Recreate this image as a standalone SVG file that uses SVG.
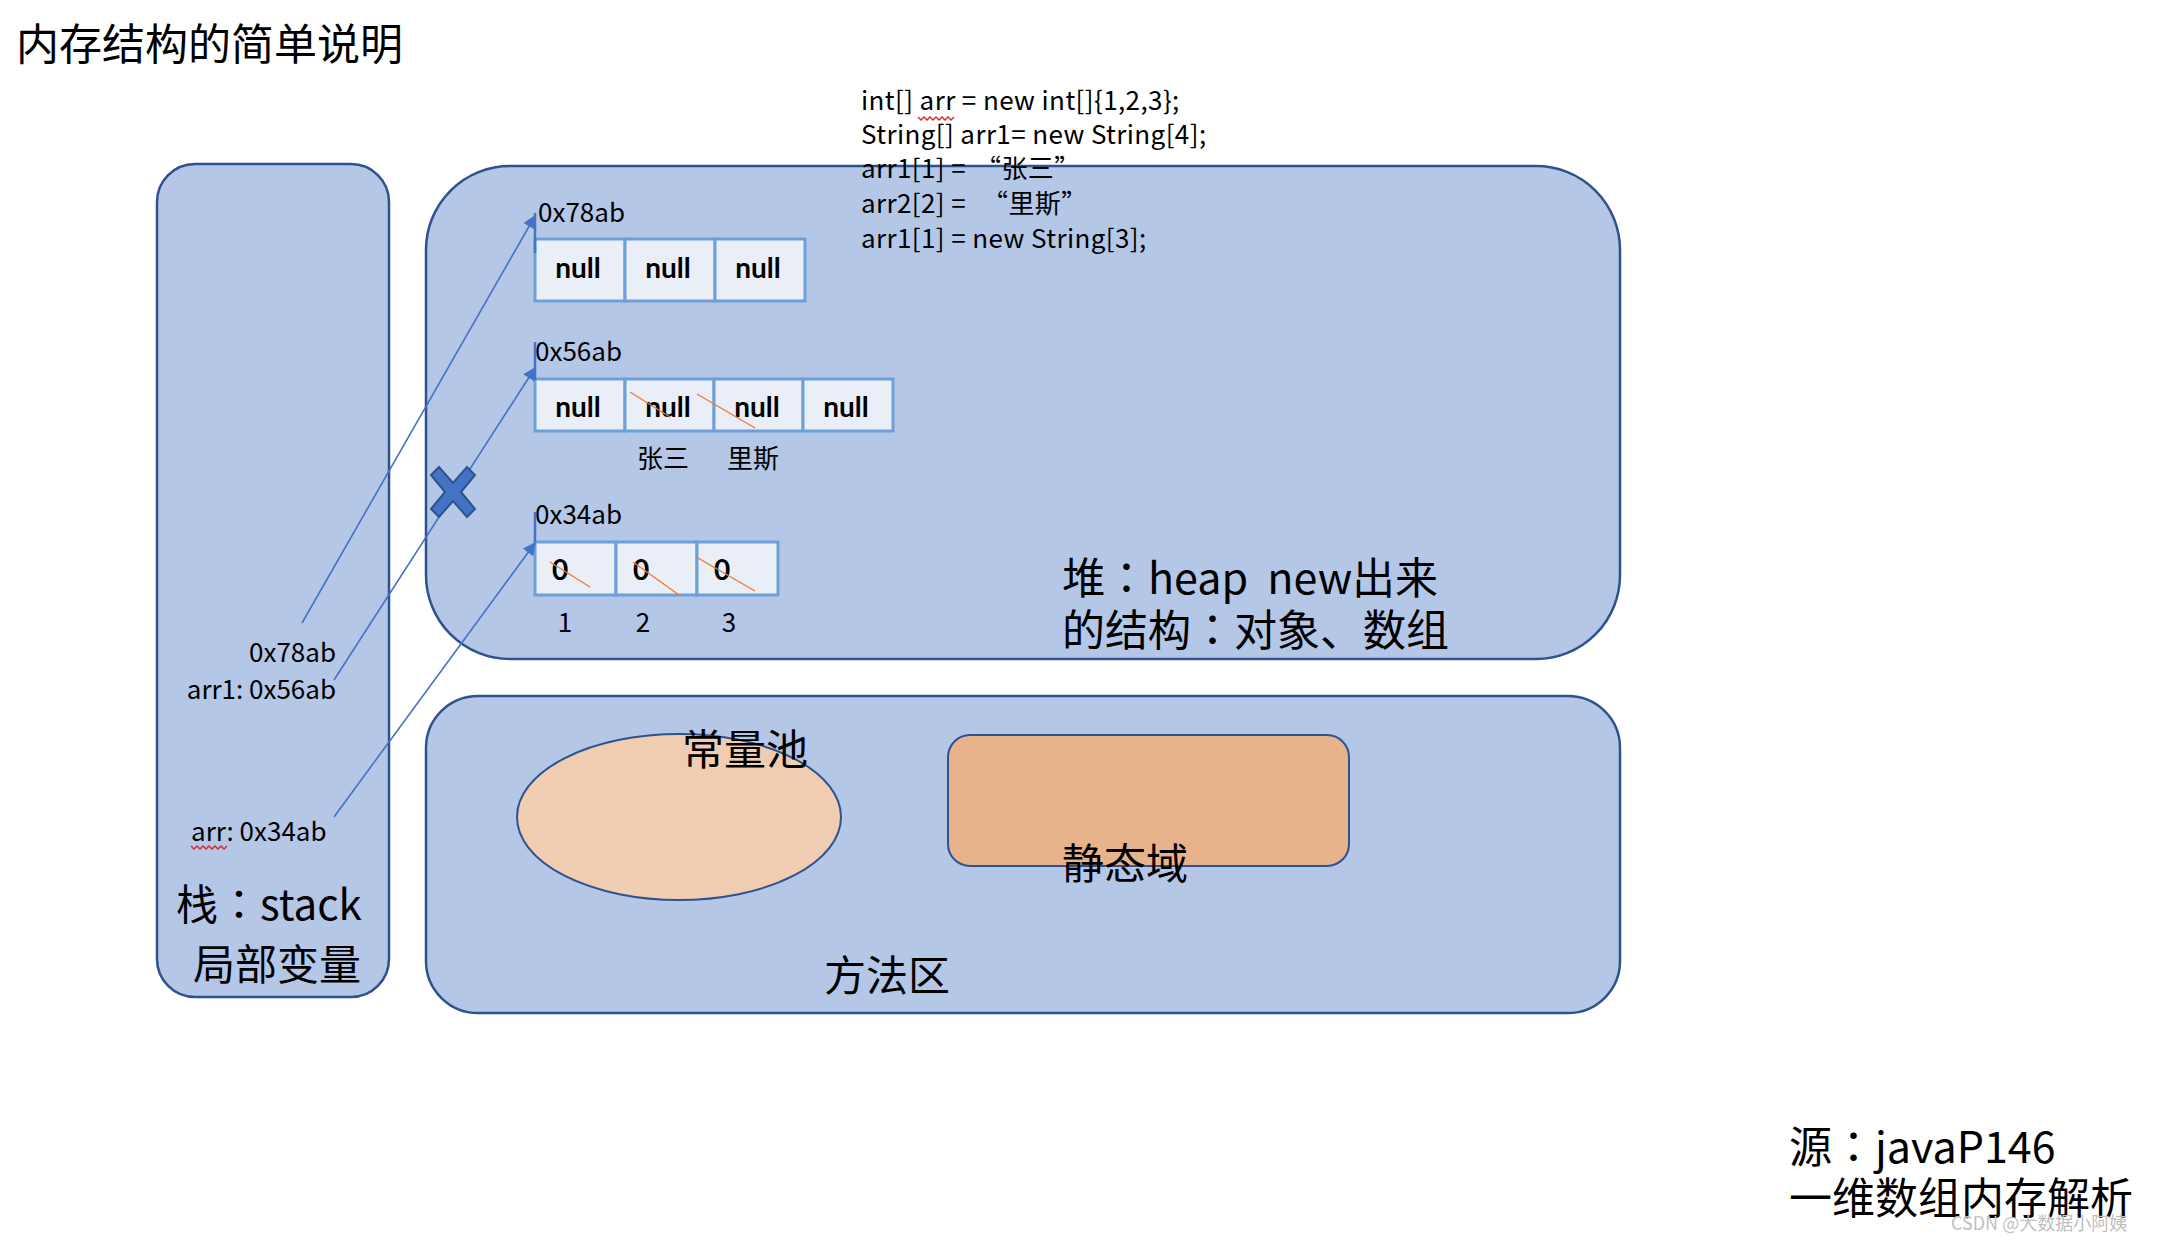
<svg xmlns="http://www.w3.org/2000/svg" width="2158" height="1244" viewBox="0 0 2158 1244">
<defs>
<style>
.t{font-family:"Noto Sans CJK SC","Noto Sans",sans-serif;fill:#000}
.tc{font-family:"Noto Sans CJK JP","Noto Sans CJK SC",sans-serif;fill:#000}
.big{font-size:42px}
.mid{font-size:26px}
.code{font-size:26px;letter-spacing:0.4px}
.bold{font-family:Lato,"Noto Sans",sans-serif;font-weight:700;font-size:28px;fill:#000}
.area{fill:#B4C7E7;stroke:#2F528F;stroke-width:2.5}
.cell{fill:#E9EEF7;stroke:#6E9FD8;stroke-width:3}
.strike{stroke:#ED7D31;stroke-width:1.4;fill:none}
.conn{stroke:#4472C4;stroke-width:1.6;fill:none}
.stub{stroke:#4472C4;stroke-width:2.5;fill:none}
.squig{stroke:#E02020;stroke-width:1.3;fill:none}
</style>
<marker id="ah2" viewBox="0 0 10 10" refX="9" refY="5" markerWidth="16" markerHeight="13" markerUnits="userSpaceOnUse" orient="auto">
<path d="M0,0 L10,5 L0,10 z" fill="#4472C4"/>
</marker>
</defs>
<rect width="2158" height="1244" fill="#fff"/>

<text class="t" x="16" y="60" font-size="43">内存结构的简单说明</text>

<g id="stack">
<rect class="area" x="157" y="164" width="232" height="833" rx="38"/>
<text class="t mid" x="336" y="662" text-anchor="end">0x78ab</text>
<text class="t mid" x="336" y="699" text-anchor="end">arr1: 0x56ab</text>
<text class="t mid" x="191" y="841">arr: 0x34ab</text>
<path class="squig" d="M191,846 l3,3 l3,-3 l3,3 l3,-3 l3,3 l3,-3 l3,3 l3,-3 l3,3 l3,-3 l3,3 l3,-3"/>
<text class="tc big" x="176" y="920">栈：stack</text>
<text class="t big" x="193" y="980">局部变量</text>
</g>

<g id="heap">
<rect class="area" x="426" y="166" width="1194" height="493" rx="84"/>
<text class="tc" font-size="43" x="1062" y="594" style="white-space:pre">堆：heap  new出来</text>
<text class="tc" font-size="43" x="1062" y="646">的结构：对象、数组</text>
</g>

<g id="code">
<text class="t code" x="861" y="110">int[] arr = new int[]{1,2,3};</text>
<path class="squig" d="M918,117 l3,3 l3,-3 l3,3 l3,-3 l3,3 l3,-3 l3,3 l3,-3 l3,3 l3,-3 l3,3 l3,-3"/>
<text class="t code" x="861" y="144">String[] arr1= new String[4];</text>
<text class="t code" x="861" y="178">arr1[1] =<tspan x="975">“张三”</tspan></text>
<text class="t code" x="861" y="213">arr2[2] =<tspan x="982">“里斯”</tspan></text>
<text class="t code" x="861" y="248">arr1[1] = new String[3];</text>
</g>

<g id="array-0x78ab">
<text class="t mid" x="538" y="222">0x78ab</text>
<rect class="cell" x="535" y="239" width="90" height="62"/>
<rect class="cell" x="625" y="239" width="90" height="62"/>
<rect class="cell" x="715" y="239" width="90" height="62"/>
<text class="bold" x="578" y="278" text-anchor="middle">null</text>
<text class="bold" x="668" y="278" text-anchor="middle">null</text>
<text class="bold" x="758" y="278" text-anchor="middle">null</text>
</g>

<g id="array-0x56ab">
<text class="t mid" x="535" y="361">0x56ab</text>
<rect class="cell" x="535" y="379" width="90" height="52"/>
<rect class="cell" x="625" y="379" width="89" height="52"/>
<rect class="cell" x="714" y="379" width="89" height="52"/>
<rect class="cell" x="803" y="379" width="90" height="52"/>
<text class="bold" x="578" y="417" text-anchor="middle">null</text>
<text class="bold" x="668" y="417" text-anchor="middle">null</text>
<text class="bold" x="757" y="417" text-anchor="middle">null</text>
<text class="bold" x="846" y="417" text-anchor="middle">null</text>
<path class="strike" d="M630,392 L670,417 M697,394 L755,428"/>
<text class="t mid" x="637" y="468">张三</text>
<text class="t mid" x="727" y="468">里斯</text>
</g>

<g id="array-0x34ab">
<text class="t mid" x="535" y="524">0x34ab</text>
<rect class="cell" x="535" y="542" width="81" height="53"/>
<rect class="cell" x="616" y="542" width="81" height="53"/>
<rect class="cell" x="697" y="542" width="81" height="53"/>
<text class="bold" x="560" y="580" text-anchor="middle">0</text>
<text class="bold" x="641" y="580" text-anchor="middle">0</text>
<text class="bold" x="722" y="580" text-anchor="middle">0</text>
<path class="strike" d="M550,562 L590,587 M633,562 L679,595 M698,558 L755,591"/>
<text class="t mid" x="565" y="632" text-anchor="middle">1</text>
<text class="t mid" x="643" y="632" text-anchor="middle">2</text>
<text class="t mid" x="729" y="632" text-anchor="middle">3</text>
</g>

<g id="method-area">
<rect class="area" x="426" y="696" width="1194" height="317" rx="52"/>
<ellipse cx="679" cy="817" rx="162" ry="83" fill="#F0CDB0" stroke="#2F528F" stroke-width="2"/>
<rect x="948" y="735" width="401" height="131" rx="22" fill="#E8B38A" stroke="#2F528F" stroke-width="2"/>
<text class="t big" x="682" y="765">常量池</text>
<text class="t big" x="1062" y="879">静态域</text>
<text class="t big" x="824" y="991">方法区</text>
</g>

<g id="connectors">
<line class="conn" x1="302" y1="623" x2="535" y2="216" marker-end="url(#ah2)"/>
<line class="conn" x1="334" y1="680" x2="535" y2="368" marker-end="url(#ah2)"/>
<line class="conn" x1="334" y1="817" x2="535" y2="543" marker-end="url(#ah2)"/>
<path class="stub" d="M535,213 V253 M535,342 V380 M535,512 V542"/>
</g>

<g id="cross">
<polygon points="431,475 439,467 453,483 467,467 475,475 461,492 475,509 467,517 453,501 439,517 431,509 445,492" fill="#4472C4" stroke="#2F528F" stroke-width="2"/>
</g>

<g id="source">
<text class="tc" x="1789" y="1163" font-size="43">源：javaP146</text>
<text class="t" x="1789" y="1214" font-size="43">一维数组内存解析</text>
</g>
<text class="t" x="1951" y="1230" font-size="18" style="fill:#C0C0C0">CSDN @大数据小阿姨</text>
</svg>
